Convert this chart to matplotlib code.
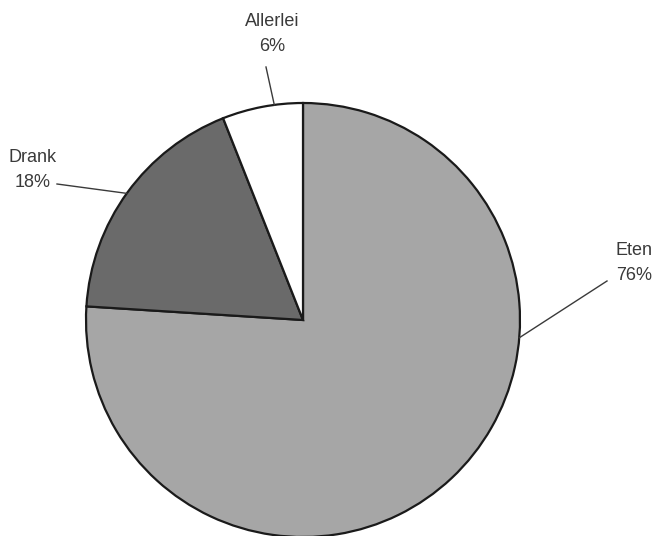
import numpy as np
import matplotlib.pyplot as plt

labels = ['Eten', 'Drank', 'Allerlei']
shares = [76, 18, 6]
colors = ['#a6a6a6', '#6a6a6a', '#ffffff']

W, H = 656, 536
fig = plt.figure(figsize=(W / 100, H / 100), dpi=100)
ax = fig.add_axes([0, 0, 1, 1])

cx, cy, r = 303, H - 320, 217
ax.pie(shares, colors=colors, startangle=90, counterclock=False,
       center=(cx, cy), radius=r, frame=True,
       wedgeprops=dict(edgecolor='#1a1a1a', linewidth=1.6))
ax.set_xlim(0, W)
ax.set_ylim(0, H)
ax.set_aspect('equal')
ax.axis('off')

txt = dict(fontsize=13, color='#3a3a3a', family=['Liberation Sans', 'DejaVu Sans'])
# label centre, leader start, angle where leader meets the rim
label_layout = {
    'Allerlei': ((272, 34), (266, 67), 97.6),
    'Drank': ((33, 170), (57, 184), 144.3),
    'Eten': ((634, 263), (607, 281), -4.7),
}
for name, share in zip(labels, shares):
    (tx, ty), (lx, ly), ang = label_layout[name]
    ax.text(tx, H - ty, f'{name}\n{share}%', ha='center', va='center',
            linespacing=1.6, **txt)
    ex = cx + r * np.cos(np.radians(ang))
    ey = cy + r * np.sin(np.radians(ang))
    ax.plot([lx, ex], [H - ly, ey], color='#3a3a3a', lw=1.0)

fig.savefig('out.png', dpi=100)
